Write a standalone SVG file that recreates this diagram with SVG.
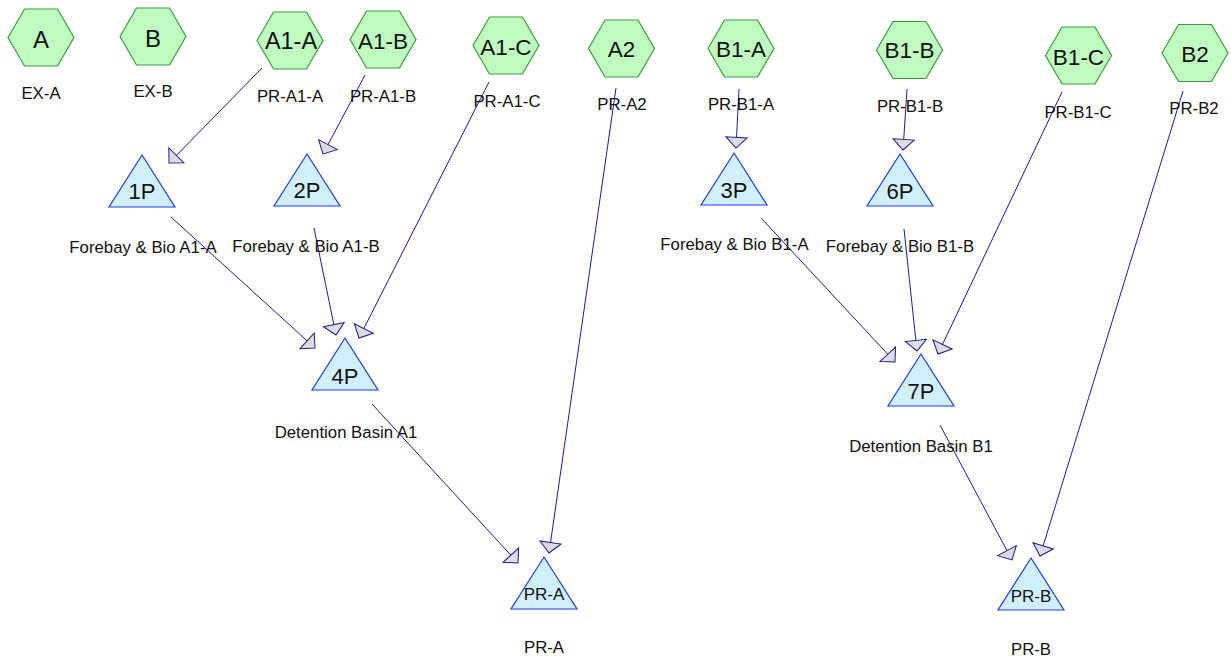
<svg xmlns="http://www.w3.org/2000/svg" xmlns:xlink="http://www.w3.org/1999/xlink" width="1231" height="661" viewBox="0 0 1231 661">
<style>
.hex{fill:#c0fcc0;stroke:#3c9c3c;stroke-width:1.2}
.tri{fill:#d0f0ff;stroke:#1e3cf0;stroke-width:1.2}
.in{font-family:"Liberation Sans",Arial,sans-serif;font-size:22.5px;fill:#111;text-anchor:middle}
.tin{font-family:"Liberation Sans",Arial,sans-serif;font-size:22px;fill:#111;text-anchor:middle}
.lbl{font-family:"Liberation Sans",Arial,sans-serif;font-size:16.8px;fill:#111;text-anchor:middle}
.con{stroke:#1c1c96;stroke-width:1;fill:none;marker-end:url(#ah)}
</style>
<defs>
<polygon id="hx" points="-33,0 -16.5,-28.5 16.5,-28.5 33,0 16.5,28.5 -16.5,28.5"/>
<polygon id="tr" points="0,0 33,52 -33,52"/>
<marker id="ah" markerUnits="userSpaceOnUse" markerWidth="13" markerHeight="24" viewBox="-1 -12 13 24" refX="10.6" refY="0" orient="auto">
<path d="M0,-10.6 L10.6,0 L0,10.6 Z" fill="#dcdce2" stroke="#1c1c8c" stroke-width="1"/>
</marker>
</defs>
<rect width="1231" height="661" fill="#fff"/>
<g id="connectors">
<line class="con" x1="262" y1="68" x2="169" y2="163"/>
<line class="con" x1="365" y1="75" x2="323" y2="154"/>
<line class="con" x1="489" y1="82" x2="359" y2="338"/>
<line class="con" x1="171" y1="217" x2="315" y2="348"/>
<line class="con" x1="314" y1="228" x2="336" y2="335"/>
<line class="con" x1="372" y1="404" x2="518" y2="563"/>
<line class="con" x1="616" y1="88" x2="549" y2="553"/>
<line class="con" x1="739" y1="89" x2="736" y2="148"/>
<line class="con" x1="907" y1="89" x2="903" y2="150"/>
<line class="con" x1="1062" y1="92" x2="938" y2="354"/>
<line class="con" x1="761" y1="218" x2="895" y2="362"/>
<line class="con" x1="904" y1="229" x2="917" y2="351"/>
<line class="con" x1="940" y1="425" x2="1012" y2="560"/>
<line class="con" x1="1183" y1="91" x2="1040" y2="556"/>
</g>
<g id="EX-A"><use xlink:href="#hx" class="hex" x="41" y="37.5"/><text class="in" x="41" y="47.5" style="font-size:24px">A</text><text class="lbl" x="41" y="99">EX-A</text></g>
<g id="EX-B"><use xlink:href="#hx" class="hex" x="153" y="36.5"/><text class="in" x="153" y="46.5" style="font-size:24px">B</text><text class="lbl" x="153" y="97">EX-B</text></g>
<g id="PR-A1-A"><use xlink:href="#hx" class="hex" x="290" y="40.5"/><text class="in" x="291" y="49" style="font-size:23.5px">A1-A</text><text class="lbl" x="290" y="102">PR-A1-A</text></g>
<g id="PR-A1-B"><use xlink:href="#hx" class="hex" x="383" y="39.5"/><text class="in" x="383" y="49">A1-B</text><text class="lbl" x="383" y="102">PR-A1-B</text></g>
<g id="PR-A1-C"><use xlink:href="#hx" class="hex" x="506" y="45.5"/><text class="in" x="506" y="55">A1-C</text><text class="lbl" x="507" y="107">PR-A1-C</text></g>
<g id="PR-A2"><use xlink:href="#hx" class="hex" x="621.5" y="48.5"/><text class="in" x="621.5" y="57">A2</text><text class="lbl" x="622" y="110">PR-A2</text></g>
<g id="PR-B1-A"><use xlink:href="#hx" class="hex" x="741" y="48.5"/><text class="in" x="741" y="57">B1-A</text><text class="lbl" x="741" y="110">PR-B1-A</text></g>
<g id="PR-B1-B"><use xlink:href="#hx" class="hex" x="909.5" y="50"/><text class="in" x="909.5" y="58">B1-B</text><text class="lbl" x="910" y="112">PR-B1-B</text></g>
<g id="PR-B1-C"><use xlink:href="#hx" class="hex" x="1078.5" y="55.5"/><text class="in" x="1078.5" y="65">B1-C</text><text class="lbl" x="1078" y="118">PR-B1-C</text></g>
<g id="PR-B2"><use xlink:href="#hx" class="hex" x="1195" y="53"/><text class="in" x="1195" y="62">B2</text><text class="lbl" x="1194" y="114">PR-B2</text></g>
<g id="P1"><use xlink:href="#tr" class="tri" x="142" y="155"/><text class="tin" x="142" y="199">1P</text><text class="lbl" x="143" y="253">Forebay &amp; Bio A1-A</text></g>
<g id="P2"><use xlink:href="#tr" class="tri" x="307" y="154"/><text class="tin" x="307" y="198">2P</text><text class="lbl" x="306" y="252">Forebay &amp; Bio A1-B</text></g>
<g id="P3"><use xlink:href="#tr" class="tri" x="734" y="153"/><text class="tin" x="734" y="198">3P</text><text class="lbl" x="734.5" y="250">Forebay &amp; Bio B1-A</text></g>
<g id="P6"><use xlink:href="#tr" class="tri" x="900" y="154"/><text class="tin" x="900" y="199">6P</text><text class="lbl" x="900" y="252">Forebay &amp; Bio B1-B</text></g>
<g id="P4"><use xlink:href="#tr" class="tri" x="345" y="338"/><text class="tin" x="345" y="384">4P</text><text class="lbl" x="346" y="438">Detention Basin A1</text></g>
<g id="P7"><use xlink:href="#tr" class="tri" x="921" y="354"/><text class="tin" x="921" y="399">7P</text><text class="lbl" x="921" y="452">Detention Basin B1</text></g>
<g id="PR-A"><use xlink:href="#tr" class="tri" x="544" y="557"/><text class="tin" x="544" y="600" style="font-size:17px">PR-A</text><text class="lbl" x="544" y="653">PR-A</text></g>
<g id="PR-B"><use xlink:href="#tr" class="tri" x="1031" y="558"/><text class="tin" x="1031" y="602" style="font-size:17px">PR-B</text><text class="lbl" x="1031" y="655">PR-B</text></g>
</svg>
